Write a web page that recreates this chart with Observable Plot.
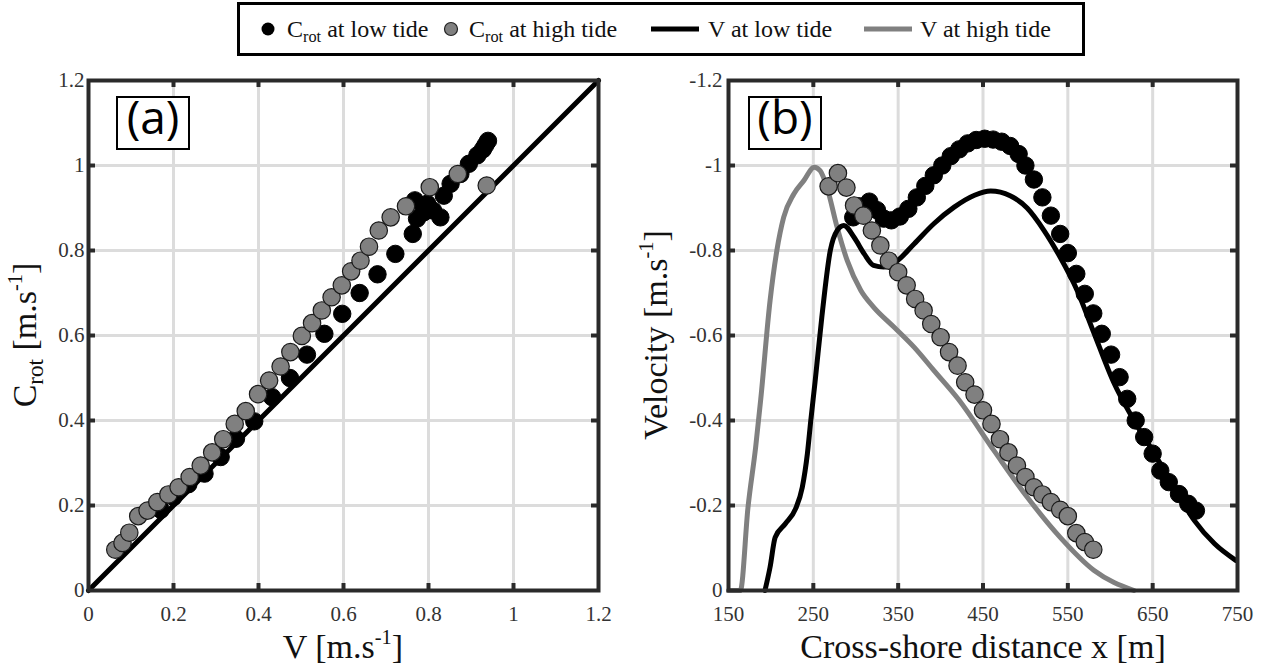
<!DOCTYPE html>
<html><head><meta charset="utf-8">
<script src="https://cdn.jsdelivr.net/npm/d3@7"></script>
<script src="https://cdn.jsdelivr.net/npm/@observablehq/plot@0.6"></script>
<style>
body{margin:0;background:#fff;}
#wrap{position:relative;width:1268px;height:669px;overflow:hidden;background:#fff;}
.panel{position:absolute;top:60px;}
#overlay{position:absolute;left:0;top:0;}
</style></head><body><div id="wrap"></div>
<script>
// ---------- Panel (a): Crot vs V ----------
const aTicks = [0, 0.2, 0.4, 0.6, 0.8, 1, 1.2];
const oneToOne = [0, 1.2];
const aLowV  = [0.17, 0.20, 0.235, 0.273, 0.311, 0.347, 0.390, 0.432, 0.474, 0.514, 0.555, 0.597, 0.638, 0.680, 0.722, 0.763, 0.773, 0.768, 0.789, 0.797, 0.811, 0.828, 0.836, 0.852, 0.875, 0.895, 0.915, 0.928, 0.934, 0.940];
const aLowC  = [0.19, 0.22, 0.25, 0.275, 0.314, 0.357, 0.398, 0.455, 0.500, 0.555, 0.604, 0.651, 0.700, 0.744, 0.792, 0.839, 0.875, 0.918, 0.890, 0.910, 0.894, 0.878, 0.929, 0.957, 0.980, 1.004, 1.024, 1.038, 1.048, 1.058];
const aHighV = [0.063, 0.080, 0.096, 0.117, 0.139, 0.162, 0.188, 0.212, 0.238, 0.264, 0.291, 0.317, 0.344, 0.370, 0.399, 0.425, 0.452, 0.475, 0.502, 0.526, 0.549, 0.572, 0.596, 0.618, 0.640, 0.660, 0.683, 0.711, 0.747, 0.803, 0.869, 0.937];
const aHighC = [0.096, 0.112, 0.136, 0.175, 0.188, 0.208, 0.226, 0.243, 0.267, 0.294, 0.325, 0.356, 0.392, 0.422, 0.462, 0.494, 0.527, 0.561, 0.599, 0.629, 0.659, 0.690, 0.718, 0.751, 0.776, 0.809, 0.847, 0.878, 0.904, 0.949, 0.980, 0.953];

// ---------- Panel (b): velocity vs cross-shore distance ----------
const bXTicks = [150, 250, 350, 450, 550, 650, 750];
const bYTicks = [0, -0.2, -0.4, -0.6, -0.8, -1, -1.2];
const bLowCx = [297, 304, 316, 325, 333, 342, 352, 362, 372, 382, 392, 402, 412, 422, 432, 442, 452, 462, 472, 482, 492, 500, 510, 520, 530, 541, 550, 560, 570, 580, 590, 601, 611, 620, 630, 640, 650, 659, 669, 681, 692, 701];
const bLowC  = [-0.878, -0.904, -0.915, -0.895, -0.875, -0.871, -0.880, -0.898, -0.925, -0.952, -0.977, -1.000, -1.022, -1.038, -1.052, -1.060, -1.063, -1.061, -1.056, -1.046, -1.027, -1.000, -0.967, -0.925, -0.882, -0.839, -0.794, -0.745, -0.698, -0.652, -0.604, -0.555, -0.502, -0.451, -0.400, -0.361, -0.322, -0.282, -0.255, -0.227, -0.204, -0.188];
const bHighCx = [268, 279, 289, 298, 309, 319, 329, 339, 350, 360, 370, 380, 389, 400, 410, 420, 429, 440, 450, 460, 470, 480, 490, 500, 510, 520, 530, 541, 550, 560, 570, 580];
const bHighC  = [-0.951, -0.982, -0.948, -0.906, -0.882, -0.847, -0.812, -0.776, -0.749, -0.718, -0.686, -0.659, -0.627, -0.596, -0.561, -0.529, -0.490, -0.461, -0.424, -0.392, -0.356, -0.325, -0.294, -0.267, -0.243, -0.226, -0.208, -0.190, -0.175, -0.135, -0.114, -0.096];
const bLowVx = [193, 199, 205, 217, 229, 237, 243, 247, 252, 260, 270, 278, 286, 298, 310, 321, 333, 349, 369, 392, 416, 440, 459, 482, 502, 522, 541, 561, 580, 604, 628, 652, 675, 699, 723, 748];
const bLowV  = [0, -0.055, -0.125, -0.157, -0.192, -0.243, -0.322, -0.400, -0.490, -0.643, -0.800, -0.847, -0.859, -0.831, -0.792, -0.765, -0.761, -0.776, -0.816, -0.863, -0.902, -0.930, -0.940, -0.929, -0.900, -0.847, -0.784, -0.706, -0.610, -0.490, -0.400, -0.322, -0.243, -0.165, -0.110, -0.071];
const bHighVx = [150, 164, 173, 182, 188, 199, 207, 215, 227, 239, 251, 258, 266, 278, 290, 306, 321, 345, 369, 392, 421, 463, 502, 541, 581, 628];
const bHighV  = [0, 0, -0.196, -0.337, -0.45, -0.682, -0.800, -0.878, -0.933, -0.965, -0.996, -0.988, -0.949, -0.855, -0.776, -0.706, -0.667, -0.620, -0.572, -0.518, -0.450, -0.329, -0.220, -0.125, -0.047, 0];

const FRAME = "#2a2a2a", GRID = "#dcdcdc", GRAY = "#808080";
const SERIF = "'Liberation Serif', 'Times New Roman', serif";

function panel({xDomain, yDomain, xTicks, yTicks, yFmt, marginLeft, marginRight, yPad, marks}) {
  const W = 634, H = 609, mt = 20, mb = 79;
  const iw = W - marginLeft - marginRight, ih = H - mt - mb;
  const ix = xTicks.slice(1, -1), iy = yTicks.slice(1, -1);
  const tk = {stroke: FRAME, strokeWidth: 4};
  return Plot.plot({
    width: W, height: H, marginTop: mt, marginBottom: mb, marginLeft, marginRight,
    x: {domain: xDomain}, y: {domain: yDomain},
    style: {fontFamily: SERIF, fontSize: "21px", color: "#333", background: "transparent", overflow: "visible"},
    marks: [
      Plot.gridX(xTicks, {stroke: GRID, strokeOpacity: 1, strokeWidth: 3}),
      Plot.gridY(yTicks, {stroke: GRID, strokeOpacity: 1, strokeWidth: 3}),
      ...marks,
      Plot.ruleX(ix, {...tk, insetTop: ih - 7}),
      Plot.ruleX(ix, {...tk, insetBottom: ih - 7}),
      Plot.ruleY(iy, {...tk, insetLeft: iw - 7}),
      Plot.ruleY(iy, {...tk, insetRight: iw - 7}),
      Plot.frame({stroke: FRAME, strokeWidth: 4}),
      Plot.axisX(xTicks, {tickSize: 0, tickPadding: 15.5, label: null, tickFormat: d => String(d), fontSize: 21, fontFamily: SERIF, fill: "#333"}),
      Plot.axisY(yTicks, {tickSize: 0, tickPadding: yPad, label: null, tickFormat: yFmt, fontSize: 21, fontFamily: SERIF, fill: "#333"})
    ]
  });
}

const plotA = panel({
  xDomain: [0, 1.2], yDomain: [0, 1.2], xTicks: aTicks, yTicks: aTicks,
  yFmt: d => String(d), marginLeft: 88, marginRight: 36, yPad: 4,
  marks: [
    Plot.line(oneToOne, {x: d => d, y: d => d, stroke: "#000", strokeWidth: 5}),
    Plot.dot(aLowC, {x: aLowV, y: aLowC, r: 8.7, fill: "#000", stroke: "#000", strokeWidth: 1}),
    Plot.dot(aHighC, {x: aHighV, y: aHighC, r: 8.7, fill: GRAY, stroke: "#1a1a1a", strokeWidth: 1.2})
  ]
});
const plotB = panel({
  xDomain: [150, 750], yDomain: [0, -1.2], xTicks: bXTicks, yTicks: bYTicks,
  yFmt: d => d === 0 ? "0" : String(d), marginLeft: 94, marginRight: 31, yPad: 6,
  marks: [
    Plot.line(bHighV, {x: bHighVx, y: bHighV, stroke: GRAY, strokeWidth: 5, curve: "monotone-x"}),
    Plot.line(bLowV, {x: bLowVx, y: bLowV, stroke: "#000", strokeWidth: 5, curve: "monotone-x"}),
    Plot.dot(bLowC, {x: bLowCx, y: bLowC, r: 8.7, fill: "#000", stroke: "#000", strokeWidth: 1}),
    Plot.dot(bHighC, {x: bHighCx, y: bHighC, r: 8.7, fill: GRAY, stroke: "#1a1a1a", strokeWidth: 1.2})
  ]
});

const wrap = document.getElementById("wrap");
const dA = document.createElement("div"); dA.className = "panel"; dA.style.left = "0px"; dA.appendChild(plotA); wrap.appendChild(dA);
const dB = document.createElement("div"); dB.className = "panel"; dB.style.left = "634px"; dB.appendChild(plotB); wrap.appendChild(dB);

// ---------- overlay: legend, axis titles, panel labels ----------
const ov = d3.select(wrap).append("svg").attr("id", "overlay").attr("width", 1268).attr("height", 669);

function rich(g, x, y, parts, size, opts = {}) {
  const t = g.append("text").attr("x", x).attr("y", y).attr("font-family", SERIF).attr("font-size", size)
    .attr("fill", opts.fill || "#111").attr("text-anchor", opts.anchor || "start");
  if (opts.rotate) t.attr("transform", `rotate(-90,${x},${y})`);
  for (const p of parts) {
    const s = t.append("tspan").text(p.t);
    if (p.sub) s.attr("font-size", size * 0.68).attr("baseline-shift", -size * 0.22);
    if (p.sup) s.attr("font-size", size * 0.6).attr("baseline-shift", size * 0.4);
  }
  return t;
}

// legend
ov.append("rect").attr("x", 238.5).attr("y", 3.5).attr("width", 845).attr("height", 51)
  .attr("fill", "#fff").attr("stroke", "#000").attr("stroke-width", 3);
const LY = 29, LB = 37, LS = 24;
ov.append("circle").attr("cx", 268).attr("cy", LY).attr("r", 6.5).attr("fill", "#000");
rich(ov, 287, LB, [{t: "C"}, {t: "rot", sub: true}, {t: " at low tide"}], LS);
ov.append("circle").attr("cx", 451).attr("cy", LY).attr("r", 6.5).attr("fill", GRAY).attr("stroke", "#222").attr("stroke-width", 1.2);
rich(ov, 469, LB, [{t: "C"}, {t: "rot", sub: true}, {t: " at high tide"}], LS);
ov.append("line").attr("x1", 651).attr("x2", 699).attr("y1", LY).attr("y2", LY).attr("stroke", "#000").attr("stroke-width", 5);
rich(ov, 708, LB, [{t: "V at low tide"}], LS);
ov.append("line").attr("x1", 864).attr("x2", 912).attr("y1", LY).attr("y2", LY).attr("stroke", GRAY).attr("stroke-width", 5);
rich(ov, 920, LB, [{t: "V at high tide"}], LS);

// axis titles
rich(ov, 343, 658, [{t: "V [m.s"}, {t: "-1", sup: true}, {t: "]"}], 34, {anchor: "middle"});
rich(ov, 983, 658, [{t: "Cross-shore distance x [m]"}], 34, {anchor: "middle"});
rich(ov, 36, 335, [{t: "C"}, {t: "rot", sub: true}, {t: " [m.s"}, {t: "-1", sup: true}, {t: "]"}], 34, {anchor: "middle", rotate: true});
rich(ov, 667, 335, [{t: "Velocity [m.s"}, {t: "-1", sup: true}, {t: "]"}], 34, {anchor: "middle", rotate: true});

// panel labels
function tag(x, label) {
  ov.append("rect").attr("x", x).attr("y", 97).attr("width", 72).attr("height", 52)
    .attr("fill", "#fff").attr("stroke", "#000").attr("stroke-width", 2);
  ov.append("text").attr("x", x + 36).attr("y", 134).attr("text-anchor", "middle")
    .attr("font-family", "'Open Sans', 'DejaVu Sans', sans-serif").attr("font-size", 46).attr("fill", "#000").text(label);
}
tag(117, "(a)");
tag(749, "(b)");
</script>
</body></html>
